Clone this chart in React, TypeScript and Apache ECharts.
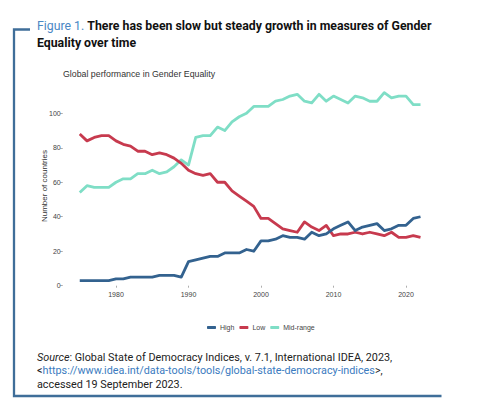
import React, { useEffect, useRef } from "react";
import * as echarts from "echarts";

const years = [
  1975, 1976, 1977, 1978, 1979, 1980, 1981, 1982, 1983, 1984, 1985, 1986, 1987, 1988, 1989, 1990,
  1991, 1992, 1993, 1994, 1995, 1996, 1997, 1998, 1999, 2000, 2001, 2002, 2003, 2004, 2005, 2006,
  2007, 2008, 2009, 2010, 2011, 2012, 2013, 2014, 2015, 2016, 2017, 2018, 2019, 2020, 2021, 2022,
];
const highValues = [
  3, 3, 3, 3, 3, 4, 4, 5, 5, 5, 5, 6, 6, 6, 5, 14,
  15, 16, 17, 17, 19, 19, 19, 21, 20, 26, 26, 27, 29, 28, 28, 27,
  31, 29, 30, 33, 35, 37, 32, 34, 35, 36, 32, 33, 35, 35, 39, 40,
];
const lowValues = [
  88, 84, 86, 87, 87, 84, 82, 81, 78, 78, 76, 77, 76, 74, 71, 67,
  65, 64, 65, 60, 60, 55, 52, 49, 46, 39, 39, 36, 33, 32, 31, 37,
  34, 32, 35, 29, 30, 30, 31, 30, 31, 30, 29, 31, 28, 28, 29, 28,
];
const midValues = [
  54, 58, 57, 57, 57, 60, 62, 62, 65, 65, 67, 65, 66, 69, 73, 70,
  86, 87, 87, 92, 90, 95, 98, 100, 104, 104, 104, 107, 108, 110, 111, 107,
  106, 111, 107, 110, 108, 106, 110, 109, 107, 107, 112, 109, 110, 110, 105, 105,
];
const seriesNames = ["High", "Low", "Mid-range"];
const yTicks = [0, 20, 40, 60, 80, 100];

const COLORS = ["#33628f", "#c73a4e", "#7fdec6"];

export default function App() {
  const ref = useRef<HTMLDivElement>(null);
  useEffect(() => {
    if (!ref.current) return;
    const chart = echarts.init(ref.current, undefined, { renderer: "svg" });
    const chartFont = "Liberation Sans, Arial, sans-serif";
    const textFont = "Roboto, sans-serif";
    const allValues = [highValues, lowValues, midValues];
    chart.setOption({
      animation: false,
      backgroundColor: "#ffffff",
      grid: { left: 79.75, right: 59.5, top: 113.3, bottom: 130.3, containLabel: false },
      legend: {
        data: seriesNames,
        left: 202,
        top: 319,
        icon: "roundRect",
        itemWidth: 9,
        itemHeight: 3,
        itemGap: 5,
        textStyle: { fontSize: 7, color: "#444", fontFamily: chartFont, padding: [0, 0, 0, -1] },
      },
      xAxis: {
        type: "category",
        data: years.map(String),
        boundaryGap: false,
        offset: 3,
        axisLine: { show: false },
        axisTick: {
          show: true,
          length: 2,
          interval: (i: number, v: string) => Number(v) % 10 === 0,
          lineStyle: { color: "#777", width: 0.6 },
        },
        axisLabel: {
          interval: (i: number, v: string) => Number(v) % 10 === 0,
          fontSize: 7,
          color: "#444",
          margin: 2,
          fontFamily: chartFont,
        },
        splitLine: { show: false },
      },
      yAxis: {
        type: "value",
        min: yTicks[0],
        max: yTicks[yTicks.length - 1],
        interval: 20,
        offset: 17,
        axisLine: { show: false },
        axisTick: { show: true, length: 2.5, lineStyle: { color: "#777", width: 0.6 } },
        axisLabel: { fontSize: 7, color: "#444", margin: 2, fontFamily: chartFont },
        splitLine: { show: false },
      },
      series: seriesNames.map((name, i) => ({
        name,
        type: "line",
        data: allValues[i],
        showSymbol: false,
        symbol: "none",
        clip: false,
        color: COLORS[i],
        lineStyle: { width: 2.8, color: COLORS[i], join: "round" },
        z: 3 - i,
      })),
      graphic: [
        {
          type: "polyline",
          shape: { points: [[30, 29.5], [14, 29.5], [14, 396], [441.5, 396]] },
          style: { stroke: "#3f6e99", lineWidth: 2.3, fill: "none" },
          silent: true,
        },
        {
          type: "text",
          x: 37,
          y: 26,
          style: {
            text: "{a|Figure 1.} {b|There has been slow but steady growth in measures of Gender}",
            verticalAlign: "middle",
            rich: {
              a: { fill: "#4a87c4", fontSize: 12.3, fontFamily: textFont, fontWeight: "normal" },
              b: { fill: "#111", fontSize: 12.3, fontFamily: textFont, fontWeight: "bold" },
            },
            fontSize: 12.3,
            fontFamily: textFont,
          },
        },
        {
          type: "text",
          x: 37,
          y: 42.7,
          style: {
            text: "Equality over time",
            fill: "#111",
            fontSize: 12.3,
            fontWeight: "bold",
            fontFamily: textFont,
            verticalAlign: "middle",
          },
        },
        {
          type: "text",
          x: 63,
          y: 74,
          style: {
            text: "Global performance in Gender Equality",
            fill: "#333",
            fontSize: 8.8,
            fontFamily: chartFont,
            verticalAlign: "middle",
          },
        },
        {
          type: "text",
          x: 44,
          y: 186,
          rotation: Math.PI / 2,
          style: {
            text: "Number of countries",
            fill: "#333",
            fontSize: 8,
            fontFamily: chartFont,
            align: "center",
            verticalAlign: "middle",
          },
        },
        {
          type: "text",
          x: 37,
          y: 357.3,
          style: {
            text: "{i|Source}: Global State of Democracy Indices, v. 7.1, International IDEA, 2023,",
            fill: "#222",
            fontSize: 10.8,
            fontFamily: textFont,
            verticalAlign: "middle",
            rich: { i: { fontStyle: "italic", fill: "#222", fontSize: 10.8, fontFamily: textFont } },
          },
        },
        {
          type: "text",
          x: 37,
          y: 370.7,
          style: {
            text: "<{u|https://www.idea.int/data-tools/tools/global-state-democracy-indices}>,",
            fill: "#222",
            fontSize: 10.8,
            fontFamily: textFont,
            verticalAlign: "middle",
            rich: { u: { fill: "#3a7bc0", fontSize: 10.8, fontFamily: textFont } },
          },
        },
        {
          type: "text",
          x: 37,
          y: 384,
          style: {
            text: "accessed 19 September 2023.",
            fill: "#222",
            fontSize: 10.8,
            fontFamily: textFont,
            verticalAlign: "middle",
          },
        },
      ],
    });
    return () => chart.dispose();
  }, []);
  return (
    <div
      ref={ref}
      style={{ position: "absolute", left: 0, top: 0, width: 480, height: 416, background: "#fff" }}
    />
  );
}
